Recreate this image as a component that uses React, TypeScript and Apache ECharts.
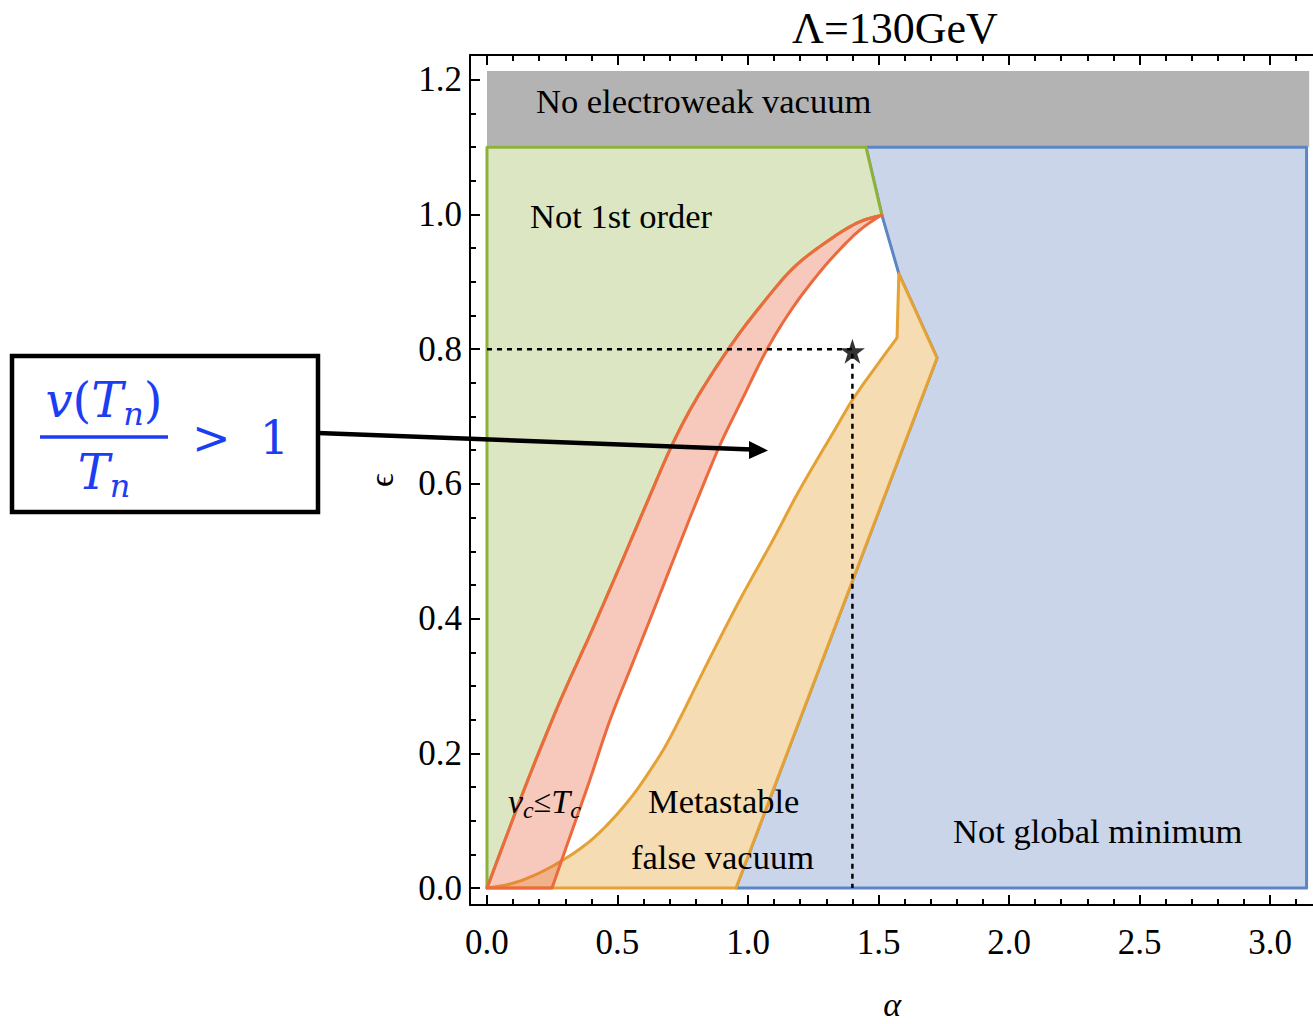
import React, { useEffect, useRef } from "react";
import * as echarts from "echarts";

// ---------- axis ticks ----------
const xMajorTicks = [0, 0.5, 1.0, 1.5, 2.0, 2.5, 3.0];
const xMinorTicks = [0.1, 0.2, 0.3, 0.4, 0.6, 0.7, 0.8, 0.9, 1.1, 1.2, 1.3, 1.4, 1.6, 1.7, 1.8, 1.9, 2.1, 2.2, 2.3, 2.4, 2.6, 2.7, 2.8, 2.9, 3.1];
const yMajorTicks = [0, 0.2, 0.4, 0.6, 0.8, 1.0, 1.2];
const yMinorTicks = [0.05, 0.1, 0.15, 0.25, 0.3, 0.35, 0.45, 0.5, 0.55, 0.65, 0.7, 0.75, 0.85, 0.9, 0.95, 1.05, 1.1, 1.15];

// ---------- region boundaries (alpha, epsilon) ----------
const noEWVacuum = [[0, 1.1], [3.15, 1.1], [3.15, 1.213], [0, 1.213]];
// left (outer) boundary of the v_c <= T_c band
const redOuter = [
  [0, 0], [0.142, 0.146], [0.249, 0.249], [0.31, 0.304], [0.398, 0.379], [0.508, 0.477],
  [0.617, 0.576], [0.713, 0.661], [0.808, 0.73], [0.935, 0.806], [1.046, 0.863],
  [1.172, 0.92], [1.303, 0.96], [1.421, 0.988], [1.513, 0.999],
];
// right (inner) boundary of the v_c <= T_c band
const redInner = [
  [0.249, 0], [0.313, 0.071], [0.39, 0.156], [0.471, 0.249], [0.556, 0.332], [0.636, 0.41],
  [0.724, 0.497], [0.805, 0.576], [0.893, 0.658], [0.977, 0.725], [1.073, 0.8],
  [1.172, 0.862], [1.276, 0.915], [1.364, 0.953], [1.429, 0.977], [1.494, 0.995], [1.513, 0.999],
];
// upper-left boundary of the metastable false vacuum region
const orangeCurve = [
  [0, 0], [0.088, 0.006], [0.176, 0.018], [0.28, 0.039], [0.383, 0.066], [0.471, 0.098],
  [0.559, 0.138], [0.636, 0.181], [0.69, 0.215], [0.75, 0.26], [0.843, 0.333], [0.969, 0.428],
  [1.096, 0.517], [1.199, 0.592], [1.341, 0.686], [1.418, 0.735], [1.571, 0.817],
];
const orangeEdge = [[1.571, 0.817], [1.578, 0.912], [1.724, 0.787], [0.954, 0]];
const greenEdge = [[0, 0], [0, 1.1], [1.452, 1.1], [1.513, 0.999]];
const blueEdge = [[0.954, 0], [3.14, 0], [3.14, 1.1], [1.452, 1.1], [1.513, 0.999], [1.578, 0.912], [1.724, 0.787], [0.954, 0]];
const guideLine = [[0, 0.8], [1.4, 0.8], [1.4, 0]];
const benchmark = [[1.4, 0.8]];

const XMIN = -0.0651;
const XMAX = 3.17;
const YMIN = -0.0252;
const YMAX = 1.2368;

const SERIF = "Liberation Serif";
const MATH = "DejaVu Serif";
const BLUE_TXT = "#1c3ef2";

type Piece = { pts: number[][]; smooth: boolean };

// Catmull-Rom sampling in pixel space (rendering only; data stays as read)
function sample(px: number[][], smooth: boolean): number[][] {
  if (!smooth || px.length < 3) return px.slice();
  const out: number[][] = [];
  const n = px.length;
  const seg = 10;
  for (let i = 0; i < n - 1; i++) {
    const p0 = px[i - 1] || px[i];
    const p1 = px[i];
    const p2 = px[i + 1];
    const p3 = px[i + 2] || px[i + 1];
    for (let k = 0; k < seg; k++) {
      const t = k / seg;
      const t2 = t * t;
      const t3 = t2 * t;
      const f = (a: number, b: number, c: number, d: number) =>
        0.5 * (2 * b + (-a + c) * t + (2 * a - 5 * b + 4 * c - d) * t2 + (-a + 3 * b - 3 * c + d) * t3);
      out.push([f(p0[0], p1[0], p2[0], p3[0]), f(p0[1], p1[1], p2[1], p3[1])]);
    }
  }
  out.push(px[n - 1]);
  return out;
}

function regionSeries(name: string, pieces: Piece[], fill: string, stroke: string | null, lw: number) {
  return {
    type: "custom",
    name,
    xAxisIndex: 0,
    yAxisIndex: 0,
    data: [pieces[0].pts[0]],
    silent: true,
    renderItem: (_params: any, api: any) => {
      let pts: number[][] = [];
      pieces.forEach((pc) => {
        const px = pc.pts.map((p) => api.coord(p));
        pts = pts.concat(sample(px, pc.smooth));
      });
      return {
        type: "polygon",
        shape: { points: pts },
        style: {
          fill,
          stroke: stroke || "none",
          lineWidth: stroke ? lw : 0,
          lineJoin: "round",
        },
      };
    },
  };
}

const rev = (a: number[][]) => a.slice().reverse();

const STAR = "path://M50,0 L61.8,35.3 L99,35.3 L69,57.1 L80.9,92.7 L50,70.9 L19.1,92.7 L31,57.1 L1,35.3 L38.2,35.3 Z";

function mkXAxis(position: "top" | "bottom", major: boolean, labels: boolean) {
  return {
    type: "value",
    min: XMIN,
    max: XMAX,
    position,
    name: labels ? "α" : "",
    nameLocation: "middle",
    nameGap: 116,
    nameTextStyle: {
      fontFamily: SERIF,
      fontStyle: "italic",
      fontSize: 34,
      color: "#000",
      verticalAlign: "bottom",
    },
    axisLine: { show: major, onZero: false, lineStyle: { color: "#000", width: 2 } },
    axisTick: {
      show: true,
      inside: true,
      length: major ? 10 : 6,
      customValues: major ? xMajorTicks : xMinorTicks,
      lineStyle: { color: "#000", width: 2 },
    },
    axisLabel: {
      show: labels,
      customValues: xMajorTicks,
      formatter: (v: number) => v.toFixed(1),
      fontFamily: SERIF,
      fontSize: 35,
      color: "#000",
      margin: 20,
    },
    splitLine: { show: false },
  };
}

function mkYAxis(major: boolean, labels: boolean) {
  return {
    type: "value",
    min: YMIN,
    max: YMAX,
    position: "left",
    name: labels ? "ϵ" : "",
    nameLocation: "middle",
    nameRotate: 90,
    nameGap: 72,
    nameTextStyle: { fontFamily: SERIF, fontSize: 34, color: "#000" },
    axisLine: { show: major, onZero: false, lineStyle: { color: "#000", width: 2 } },
    axisTick: {
      show: true,
      inside: true,
      length: major ? 10 : 6,
      customValues: major ? yMajorTicks : yMinorTicks,
      lineStyle: { color: "#000", width: 2 },
    },
    axisLabel: {
      show: labels,
      customValues: yMajorTicks,
      formatter: (v: number) => v.toFixed(1),
      fontFamily: SERIF,
      fontSize: 35,
      color: "#000",
      margin: 8,
    },
    splitLine: { show: false },
  };
}

function txt(text: string, x: number, y: number, size: number, extra: any = {}) {
  return {
    type: "text",
    x,
    y,
    z: 100,
    style: {
      text,
      fill: "#000",
      fontFamily: SERIF,
      fontSize: size,
      textAlign: "left",
      textVerticalAlign: "middle",
      ...extra,
    },
  };
}

export default function App() {
  const ref = useRef<HTMLDivElement>(null);
  useEffect(() => {
    if (!ref.current) return;
    const chart = echarts.init(ref.current, null, { renderer: "svg" });
    const option: any = {
      animation: false,
      backgroundColor: "#fff",
      grid: { left: 470, top: 55, width: 844.4, height: 850, containLabel: false, outerBoundsMode: "none" },
      xAxis: [
        mkXAxis("bottom", true, true),
        mkXAxis("bottom", false, false),
        mkXAxis("top", true, false),
        mkXAxis("top", false, false),
      ],
      yAxis: [mkYAxis(true, true), mkYAxis(false, false)],
      series: [
        regionSeries("No electroweak vacuum", [{ pts: noEWVacuum, smooth: false }], "#b3b3b3", null, 0),
        regionSeries("Not global minimum", [{ pts: blueEdge, smooth: false }], "#cad5ea", "#5b86c3", 3),
        regionSeries(
          "Not 1st order",
          [{ pts: greenEdge, smooth: false }, { pts: rev(redOuter), smooth: true }],
          "#dce6c2",
          "#8db23c",
          3
        ),
        regionSeries(
          "Metastable false vacuum",
          [{ pts: orangeCurve, smooth: true }, { pts: orangeEdge, smooth: false }],
          "#f5dcb3",
          "#e4a134",
          3
        ),
        regionSeries(
          "vc<=Tc",
          [{ pts: redOuter, smooth: true }, { pts: rev(redInner), smooth: true }],
          "rgba(232,101,64,0.35)",
          "#ec6a3c",
          3
        ),
        {
          type: "line",
          data: guideLine,
          symbol: "none",
          silent: true,
          lineStyle: { color: "#000", width: 2.5, type: [5, 5] },
          z: 5,
        },
        {
          type: "scatter",
          data: benchmark,
          symbol: STAR,
          symbolSize: 25,
          symbolOffset: [0, 2],
          itemStyle: { color: "#000" },
          silent: true,
          z: 6,
        },
      ],
      graphic: [
        txt("Λ=130GeV", 895, 28, 44, { textAlign: "center" }),
        txt("No electroweak vacuum", 536, 101, 34.5),
        txt("Not 1st order", 530, 216, 34.5),
        txt("Metastable", 648, 801, 34.5),
        txt("false vacuum", 631, 857, 34.5),
        txt("Not global minimum", 953, 831, 34.5),
        {
          type: "text",
          x: 508,
          y: 801,
          z: 100,
          style: {
            text: "{i|v}{s|c}{r|≤}{i|T}{s|c}",
            fill: "#000",
            textAlign: "left",
            textVerticalAlign: "middle",
            rich: {
              i: { fontFamily: SERIF, fontStyle: "italic", fontSize: 34, lineHeight: 42 },
              r: { fontFamily: SERIF, fontSize: 32, lineHeight: 42 },
              s: { fontFamily: SERIF, fontStyle: "italic", fontSize: 24, lineHeight: 22, verticalAlign: "bottom" },
            },
          },
        },
        // formula box
        {
          type: "rect",
          z: 100,
          shape: { x: 12, y: 356, width: 306, height: 156 },
          style: { fill: "#fff", stroke: "#000", lineWidth: 4.5 },
        },
        {
          type: "text",
          x: 104,
          y: 400,
          z: 101,
          style: {
            text: "{i|v}{r|(}{i|T}{s|n}{r|)}",
            fill: BLUE_TXT,
            textAlign: "center",
            textVerticalAlign: "middle",
            rich: {
              i: { fontFamily: MATH, fontStyle: "italic", fontSize: 48, lineHeight: 60 },
              r: { fontFamily: MATH, fontSize: 48, lineHeight: 60 },
              s: { fontFamily: MATH, fontStyle: "italic", fontSize: 32, lineHeight: 30, verticalAlign: "bottom" },
            },
          },
        },
        {
          type: "line",
          z: 101,
          shape: { x1: 40, y1: 437, x2: 168, y2: 437 },
          style: { stroke: BLUE_TXT, lineWidth: 3.5 },
        },
        {
          type: "text",
          x: 104,
          y: 472,
          z: 101,
          style: {
            text: "{i|T}{s|n}",
            fill: BLUE_TXT,
            textAlign: "center",
            textVerticalAlign: "middle",
            rich: {
              i: { fontFamily: MATH, fontStyle: "italic", fontSize: 48, lineHeight: 60 },
              s: { fontFamily: MATH, fontStyle: "italic", fontSize: 32, lineHeight: 30, verticalAlign: "bottom" },
            },
          },
        },
        {
          type: "text",
          x: 192,
          y: 438,
          z: 101,
          style: {
            text: ">  1",
            fill: BLUE_TXT,
            fontFamily: MATH,
            fontSize: 46,
            textAlign: "left",
            textVerticalAlign: "middle",
          },
        },
        // arrow
        {
          type: "line",
          z: 102,
          shape: { x1: 318, y1: 433, x2: 752, y2: 449.5 },
          style: { stroke: "#000", lineWidth: 4.5 },
        },
        {
          type: "polygon",
          z: 102,
          shape: { points: [[749, 441], [768, 450.5], [749, 459]] },
          style: { fill: "#000" },
        },
      ],
    };
    chart.setOption(option);
    return () => chart.dispose();
  }, []);
  return (
    <div
      ref={ref}
      style={{ position: "absolute", left: 0, top: 0, width: 1313, height: 1024, background: "#fff" }}
    />
  );
}
